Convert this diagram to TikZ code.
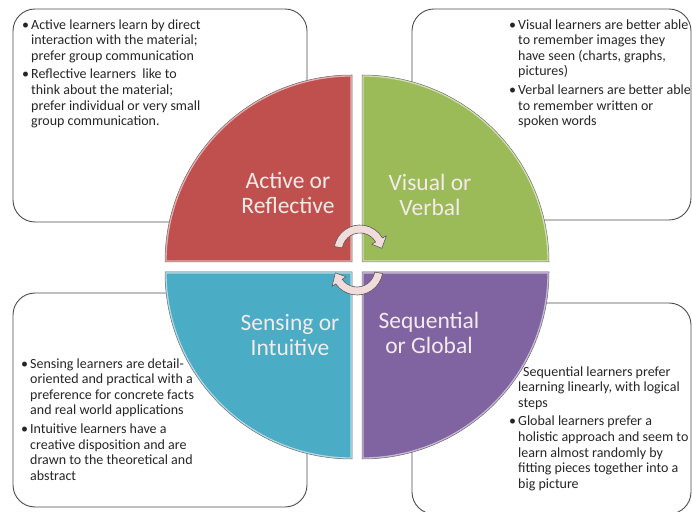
\documentclass[tikz,border=0pt]{standalone}
\usepackage{fontspec}
\setmainfont{Carlito}
\usetikzlibrary{calc}

\definecolor{activered}{HTML}{C0504D}
\definecolor{visualgreen}{HTML}{9BBB59}
\definecolor{sensingblue}{HTML}{4BACC6}
\definecolor{globalpurple}{HTML}{8064A2}
\definecolor{cyclepink}{HTML}{F2DCDB}
\definecolor{labelwhite}{HTML}{F4EAEA}

\tikzset{
  notebox/.style={draw=black!70, line width=0.9pt, fill=white, rounded corners=22pt},
  notetext/.style={anchor=north west, inner sep=0pt, text=black!85,
    font=\fontsize{14}{15.6}\selectfont},
  quadlabel/.style={text=labelwhite, align=center, inner sep=0pt,
    font=\fontsize{23.5}{25}\selectfont},
  cyclearrow/.style={fill=cyclepink, draw=black!65, line width=0.6pt, line join=round},
}

% one quarter of the disc: colour, corner, start and end angle
\def\quadpart[#1](#2,#3)(#4:#5){%
  \begin{scope}
    \clip (#2,#3) -- ++(#4:187pt) arc[start angle=#4, end angle=#5, radius=187pt] -- cycle;
    \path[fill=#1, draw=#1!45!white, line width=3.2pt]
      (#2,#3) -- ++(#4:187pt) arc[start angle=#4, end angle=#5, radius=187pt] -- cycle;
  \end{scope}
  \draw[black!55, line width=0.5pt]
    (#2,#3) -- ++(#4:187pt) arc[start angle=#4, end angle=#5, radius=187pt] -- cycle;
}

% curved arrow: centre, start angle, head angle, tip angle
\def\cyclearrow(#1)(#2:#3:#4){%
  \draw[cyclearrow] ($(#1)+(#2:26pt)$) arc[start angle=#2, end angle=#3, radius=26pt]
    -- ($(#1)+(#3:30.5pt)$) -- ($(#1)+(#4:22pt)$) -- ($(#1)+(#3:13.5pt)$)
    -- ($(#1)+(#3:18pt)$) arc[start angle=#3, end angle=#2, radius=18pt] -- cycle;
}

\begin{document}
\begin{tikzpicture}[x=1pt, y=1pt]
  \useasboundingbox (0,0) rectangle (692,511);

  %%%%% boxes %%%%%
  \draw[notebox] (13,502) rectangle (307,289);
  \draw[notebox] (412,502) rectangle (691,291);
  \draw[notebox] (13,218) rectangle (307,4);
  \draw[notebox] (412,208) rectangle (691,-3);

  \node[notetext] (activenote) at (22,493) {\begin{tabular}{@{}p{9pt}@{}l@{}}
    \textbullet & Active learners learn by direct\\
    & interaction with the material;\\
    & prefer group communication\\[3pt]
    \textbullet & Reflective learners\ \ like to\\
    & think about the material;\\
    & prefer individual or very small\\
    & group communication.
  \end{tabular}};

  \node[notetext] (visualnote) at (509,493) {\begin{tabular}{@{}p{9pt}@{}l@{}}
    \textbullet & Visual learners are better able\\
    & to remember images they\\
    & have seen (charts, graphs,\\
    & pictures)\\[3pt]
    \textbullet & Verbal learners are better able\\
    & to remember written or\\
    & spoken words
  \end{tabular}};

  \node[notetext] (sensingnote) at (21,154) {\begin{tabular}{@{}p{9pt}@{}l@{}}
    \textbullet & Sensing learners are detail-\\
    & oriented and practical with a\\
    & preference for concrete facts\\
    & and real world applications\\[3pt]
    \textbullet & Intuitive learners have a\\
    & creative disposition and are\\
    & drawn to the theoretical and\\
    & abstract
  \end{tabular}};

  \node[notetext] (globalnote) at (509,146) {\begin{tabular}{@{}p{9pt}@{}l@{}}
    \textbullet & \hspace{5pt}Sequential learners prefer\\
    & learning linearly, with logical\\
    & steps\\[3pt]
    \textbullet & Global learners prefer a\\
    & holistic approach and seem to\\
    & learn almost randomly by\\
    & fitting pieces together into a\\
    & big picture
  \end{tabular}};

  %%%%% disc %%%%%
  \quadpart[activered](352,249)(180:90)
  \quadpart[visualgreen](362,249)(90:0)
  \quadpart[sensingblue](352,239)(180:270)
  \quadpart[globalpurple](362,239)(0:-90)

  \node[quadlabel] (activelabel) at (288,318.5) {Active or\\Reflective};
  \node[quadlabel] (visuallabel) at (430,316.5) {Visual or\\Verbal};
  \node[quadlabel] (sensinglabel) at (290,176) {Sensing or\\Intuitive};
  \node[quadlabel] (globallabel) at (429,178.5) {Sequential\\or Global};

  \cyclearrow(360,260)(170:30:7)
  \cyclearrow(357,242)(-10:-145:-170)
\end{tikzpicture}
\end{document}
